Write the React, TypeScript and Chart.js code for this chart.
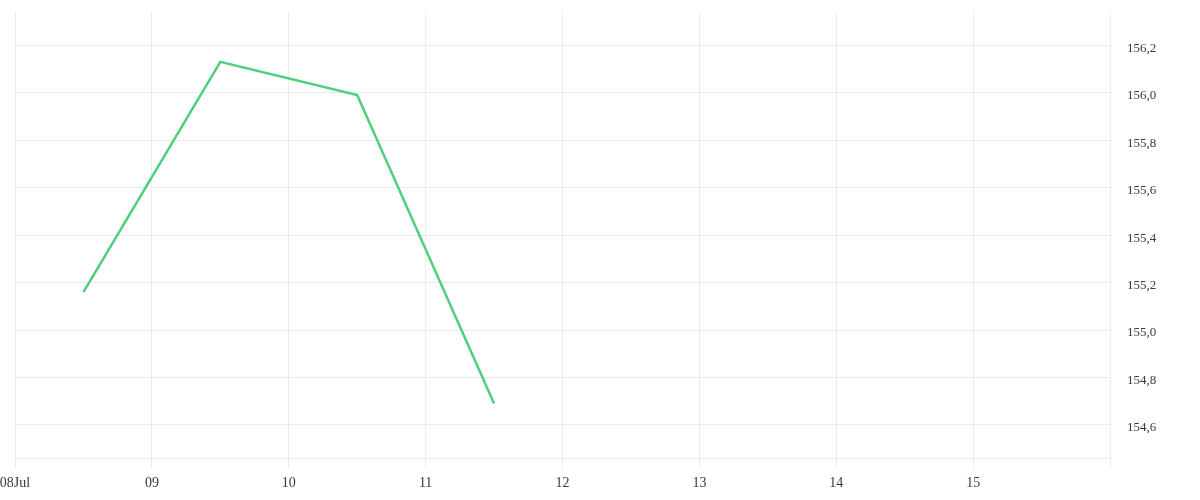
import React, { useEffect, useRef } from "react";
import Chart from "chart.js/auto";

// x positions are days of July (12:00 = .5)
const pointDays = [8.5, 9.5, 10.5, 11.5];
const priceValues = [155.16, 156.13, 155.99, 154.69];

const dayTicks = [8, 9, 10, 11, 12, 13, 14, 15, 16];
const dayLabels = ["08Jul", "09", "10", "11", "12", "13", "14", "15", ""];

const LINE_COLOR = "#4cd07c";
const GRID_COLOR = "#ececec";
const TEXT_COLOR = "#3a3a3a";
const FONT_FAMILY = "'Liberation Serif', serif";

const App: React.FC = () => {
  const canvasRef = useRef<HTMLCanvasElement | null>(null);

  useEffect(() => {
    document.body.style.margin = "0";
    if (!canvasRef.current) return;

    const chart = new Chart(canvasRef.current, {
      type: "line",
      data: {
        datasets: [
          {
            data: pointDays.map((d, i) => ({ x: d, y: priceValues[i] })),
            borderColor: LINE_COLOR,
            borderWidth: 2.5,
            pointRadius: 0,
            tension: 0,
            fill: false,
          },
        ],
      },
      options: {
        animation: false,
        responsive: false,
        layout: { padding: { top: 12, left: 15, bottom: 1 } },
        plugins: {
          legend: { display: false },
          tooltip: { enabled: false },
        },
        scales: {
          x: {
            type: "linear",
            min: dayTicks[0],
            max: dayTicks[dayTicks.length - 1],
            afterBuildTicks: (scale) => {
              scale.ticks = dayTicks.map((v) => ({ value: v }));
            },
            afterFit: (scale) => {
              // the label padding is handled by layout.padding
              scale.paddingLeft = 0;
              scale.paddingRight = 0;
            },
            grid: { color: GRID_COLOR, tickLength: 10, tickColor: GRID_COLOR },
            border: { color: GRID_COLOR },
            ticks: {
              autoSkip: false,
              maxRotation: 0,
              padding: 7,
              color: TEXT_COLOR,
              font: { family: FONT_FAMILY, size: 14 },
              callback: (value) => {
                const idx = dayTicks.indexOf(Number(value));
                return idx >= 0 ? dayLabels[idx] : "";
              },
            },
          },
          y: {
            position: "right",
            min: 154.46,
            max: 156.34,
            afterFit: (scale) => {
              scale.width = 90;
              scale.paddingTop = 0;
              scale.paddingBottom = 0;
            },
            grid: { color: GRID_COLOR, drawTicks: false },
            border: { color: GRID_COLOR },
            ticks: {
              stepSize: 0.2,
              includeBounds: false,
              padding: 17,
              labelOffset: 3,
              color: TEXT_COLOR,
              font: { family: FONT_FAMILY, size: 13 },
              callback: (value) => Number(value).toFixed(1).replace(".", ","),
            },
          },
        },
      },
    });

    return () => {
      chart.destroy();
    };
  }, []);

  return <canvas ref={canvasRef} width={1200} height={500} style={{ display: "block" }} />;
};

export default App;
